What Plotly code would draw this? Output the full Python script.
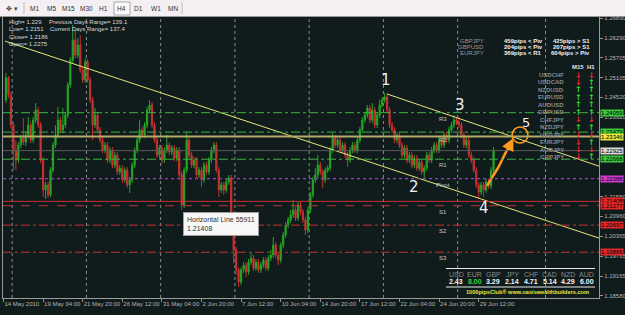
import plotly.graph_objects as go

# ---------------- figure geometry ----------------
W, H = 625, 315
ML, MR, MT, MB = 3, 26, 17, 17
PW, PH = W - ML - MR, H - MT - MB
BAR_PX = 2.475
X0 = -0.2
X1 = X0 + PW / BAR_PX
Y_BOT, Y_TOP = 1.18518, 1.26920

# ---------------- data ----------------
time_labels = ["14 May 2010", "19 May 04:00", "21 May 20:00", "26 May 12:00", "31 May 04:00",
               "2 Jun 20:00", "7 Jun 12:00", "10 Jun 04:00", "14 Jun 20:00", "17 Jun 12:00",
               "22 Jun 04:00", "24 Jun 20:00", "29 Jun 12:00"]
label_bars = [0, 16, 32, 48, 64, 80, 96, 112, 128, 144, 160, 176, 192]
week_bars = [3.5, 33.5, 63.5, 93.5, 123.5, 153.5, 183.5, 219.0]

first_open = 1.2444
closes = [
    1.2510, 1.2459, 1.2369, 1.2294, 1.2264, 1.2309, 1.2330, 1.2318, 1.2339, 1.2369,
    1.2324, 1.2384, 1.2414, 1.2369, 1.2264, 1.2175, 1.2190, 1.2160, 1.2234, 1.2309,
    1.2339, 1.2384, 1.2354, 1.2369, 1.2399, 1.2489, 1.2563, 1.2623, 1.2578, 1.2608,
    1.2534, 1.2504, 1.2557, 1.2504, 1.2444, 1.2369, 1.2399, 1.2354, 1.2324, 1.2294,
    1.2309, 1.2264, 1.2294, 1.2249, 1.2279, 1.2229, 1.2240, 1.2205, 1.2234, 1.2190,
    1.2205, 1.2249, 1.2294, 1.2324, 1.2354, 1.2339, 1.2369, 1.2414, 1.2429, 1.2369,
    1.2324, 1.2279, 1.2300, 1.2264, 1.2294, 1.2309, 1.2288, 1.2300, 1.2270, 1.2294,
    1.2220, 1.2130, 1.2234, 1.2324, 1.2279, 1.2249, 1.2264, 1.2220, 1.2234, 1.2205,
    1.2249, 1.2229, 1.2264, 1.2294, 1.2309, 1.2234, 1.2175, 1.2190, 1.2175, 1.2199,
    1.2211, 1.2100, 1.1995, 1.1936, 1.1900, 1.1936, 1.1950, 1.1930, 1.1959, 1.1971,
    1.1941, 1.1959, 1.1936, 1.1950, 1.1965, 1.1941, 1.1971, 1.1980, 1.2010, 1.1980,
    1.1965, 1.2010, 1.2040, 1.2070, 1.2085, 1.2100, 1.2115, 1.2091, 1.2130, 1.2109,
    1.2085, 1.2055, 1.2115, 1.2160, 1.2205, 1.2220, 1.2249, 1.2229, 1.2205, 1.2234,
    1.2240, 1.2294, 1.2330, 1.2309, 1.2324, 1.2294, 1.2309, 1.2279, 1.2264, 1.2294,
    1.2309, 1.2294, 1.2324, 1.2354, 1.2384, 1.2399, 1.2420, 1.2384, 1.2414, 1.2369,
    1.2399, 1.2429, 1.2444, 1.2453, 1.2414, 1.2369, 1.2354, 1.2324, 1.2339, 1.2309,
    1.2279, 1.2300, 1.2264, 1.2279, 1.2249, 1.2270, 1.2240, 1.2258, 1.2229, 1.2240,
    1.2279, 1.2264, 1.2294, 1.2309, 1.2294, 1.2324, 1.2309, 1.2339, 1.2324, 1.2354,
    1.2369, 1.2384, 1.2378, 1.2369, 1.2339, 1.2309, 1.2324, 1.2279, 1.2264, 1.2234,
    1.2190, 1.2169, 1.2190, 1.2175, 1.2199, 1.2187, 1.2234, 1.2294]
highs = [
    1.2525, 1.2516, 1.2468, 1.2378, 1.2324, 1.2318, 1.2339, 1.2390, 1.2348, 1.2393,
    1.2378, 1.2393, 1.2435, 1.2423, 1.2378, 1.2273, 1.2199, 1.2199, 1.2243, 1.2318,
    1.2369, 1.2423, 1.2393, 1.2420, 1.2408, 1.2498, 1.2572, 1.2668, 1.2653, 1.2629,
    1.2638, 1.2542, 1.2569, 1.2566, 1.2513, 1.2453, 1.2420, 1.2408, 1.2363, 1.2333,
    1.2318, 1.2318, 1.2303, 1.2303, 1.2288, 1.2288, 1.2249, 1.2249, 1.2243, 1.2243,
    1.2214, 1.2258, 1.2303, 1.2333, 1.2384, 1.2363, 1.2378, 1.2423, 1.2444, 1.2438,
    1.2378, 1.2333, 1.2309, 1.2309, 1.2303, 1.2339, 1.2318, 1.2309, 1.2309, 1.2303,
    1.2303, 1.2229, 1.2243, 1.2345, 1.2333, 1.2288, 1.2273, 1.2273, 1.2243, 1.2243,
    1.2258, 1.2258, 1.2273, 1.2303, 1.2318, 1.2318, 1.2243, 1.2199, 1.2199, 1.2208,
    1.2220, 1.2220, 1.2109, 1.2004, 1.1944, 1.1944, 1.1959, 1.1959, 1.1968, 1.1986,
    1.1980, 1.1968, 1.1968, 1.1959, 1.1974, 1.1974, 1.1980, 1.1995, 1.2034, 1.2019,
    1.1989, 1.2019, 1.2049, 1.2079, 1.2094, 1.2115, 1.2145, 1.2124, 1.2139, 1.2139,
    1.2118, 1.2094, 1.2124, 1.2169, 1.2214, 1.2240, 1.2279, 1.2258, 1.2237, 1.2243,
    1.2249, 1.2303, 1.2345, 1.2339, 1.2333, 1.2333, 1.2318, 1.2318, 1.2288, 1.2303,
    1.2318, 1.2318, 1.2333, 1.2363, 1.2393, 1.2408, 1.2429, 1.2429, 1.2435, 1.2423,
    1.2408, 1.2444, 1.2453, 1.2465, 1.2462, 1.2423, 1.2378, 1.2363, 1.2348, 1.2348,
    1.2318, 1.2309, 1.2309, 1.2288, 1.2288, 1.2279, 1.2279, 1.2267, 1.2267, 1.2249,
    1.2288, 1.2288, 1.2303, 1.2318, 1.2318, 1.2333, 1.2333, 1.2348, 1.2348, 1.2363,
    1.2378, 1.2399, 1.2393, 1.2393, 1.2378, 1.2348, 1.2333, 1.2333, 1.2288, 1.2273,
    1.2243, 1.2199, 1.2199, 1.2199, 1.2208, 1.2208, 1.2243, 1.2303]
lows = [
    1.2435, 1.2450, 1.2360, 1.2234, 1.2234, 1.2255, 1.2300, 1.2309, 1.2306, 1.2330,
    1.2315, 1.2315, 1.2375, 1.2360, 1.2255, 1.2154, 1.2148, 1.2151, 1.2154, 1.2226,
    1.2300, 1.2330, 1.2345, 1.2345, 1.2360, 1.2390, 1.2480, 1.2554, 1.2569, 1.2569,
    1.2525, 1.2495, 1.2495, 1.2495, 1.2435, 1.2324, 1.2360, 1.2345, 1.2315, 1.2285,
    1.2285, 1.2255, 1.2255, 1.2240, 1.2240, 1.2220, 1.2220, 1.2196, 1.2196, 1.2181,
    1.2166, 1.2196, 1.2240, 1.2285, 1.2315, 1.2330, 1.2330, 1.2360, 1.2405, 1.2360,
    1.2315, 1.2270, 1.2270, 1.2255, 1.2255, 1.2285, 1.2279, 1.2279, 1.2261, 1.2261,
    1.2211, 1.2115, 1.2121, 1.2226, 1.2270, 1.2240, 1.2240, 1.2211, 1.2211, 1.2184,
    1.2196, 1.2220, 1.2220, 1.2255, 1.2285, 1.2226, 1.2154, 1.2166, 1.2160, 1.2166,
    1.2190, 1.2091, 1.1956, 1.1921, 1.1885, 1.1891, 1.1927, 1.1915, 1.1921, 1.1950,
    1.1933, 1.1933, 1.1927, 1.1927, 1.1941, 1.1933, 1.1933, 1.1962, 1.1971, 1.1971,
    1.1950, 1.1956, 1.2001, 1.2031, 1.2061, 1.2076, 1.2091, 1.2082, 1.2082, 1.2100,
    1.2076, 1.2040, 1.2046, 1.2106, 1.2151, 1.2196, 1.2211, 1.2220, 1.2181, 1.2196,
    1.2226, 1.2232, 1.2285, 1.2300, 1.2300, 1.2285, 1.2285, 1.2270, 1.2243, 1.2255,
    1.2285, 1.2285, 1.2285, 1.2315, 1.2345, 1.2375, 1.2390, 1.2375, 1.2375, 1.2360,
    1.2360, 1.2390, 1.2420, 1.2435, 1.2405, 1.2360, 1.2345, 1.2315, 1.2315, 1.2300,
    1.2270, 1.2270, 1.2255, 1.2255, 1.2240, 1.2240, 1.2232, 1.2232, 1.2220, 1.2211,
    1.2232, 1.2255, 1.2255, 1.2285, 1.2285, 1.2285, 1.2300, 1.2300, 1.2315, 1.2315,
    1.2345, 1.2360, 1.2369, 1.2360, 1.2330, 1.2300, 1.2300, 1.2270, 1.2255, 1.2226,
    1.2181, 1.2151, 1.2160, 1.2154, 1.2166, 1.2178, 1.2178, 1.2226]

price_ticks = [1.26890, 1.26290, 1.25705, 1.25105, 1.24520, 1.23920, 1.23335, 1.22750,
               1.22150, 1.21550, 1.20960, 1.20365, 1.19765, 1.19165, 1.18580]

levels = [1.24059, 1.23479, 1.23346, 1.22925, 1.22668, 1.22088, 1.21408, 1.21277, 1.20697, 1.19886]
level_names = ["R3", "R2", "", "", "R1", "Pivot", "", "S1", "S2", "S3"]

trend1_bars = [0.6, 240.6]
trend1_prices = [1.2620, 1.2031]
trend2_bars = [154.9, 240.6]
trend2_prices = [1.2462, 1.2246]

arrow_bars = [195.4, 197.8, 200.2, 202.6, 204.4]
arrow_prices = [1.2187, 1.2217, 1.2246, 1.2282, 1.2306]
arrow_tip = (206.0, 1.2330)
circle_center = (208.7, 1.2339)

wave_labels = ["1", "2", "3", "4", "5"]
wave_bars = [154.6, 165.9, 184.4, 194.1, 211.1]
wave_prices = [1.2504, 1.2184, 1.2429, 1.2120, 1.2378]

info_left = ["High= 1.229", "Low= 1.2151", "Close= 1.2186", "Open= 1.2275"]
info_right = ["Previous Days Range= 139.1", "Current Days Range= 137.4"]

pip_pairs = ["GBPJPY", "GBPUSD", "EURJPY"]
pip_col1 = ["459pips < Piv", "204pips < Piv", "369pips < R1"]
pip_col2 = ["425pips > S1", "207pips > S1", "604pips > Piv"]

pairs = ["USDCHF", "USDCAD", "NZDUSD", "EURUSD", "AUDUSD", "GBPUSD",
         "CHFJPY", "NZDJPY", "USDJPY", "EURJPY", "AUDJPY", "GBPJPY"]
m15_dir = ["down", "down", "up", "up", "up", "up", "down", "up", "down", "down", "down", "down"]
h1_dir = ["down", "up", "up", "up", "up", "up", "down", "up", "down", "up", "down", "up"]

currencies = ["USD", "EUR", "GBP", "JPY", "CHF", "CAD", "NZD", "AUD"]
strength = [2.43, 8.00, 3.29, 2.14, 4.71, 5.14, 4.29, 6.00]

timeframes = ["M1", "M5", "M15", "M30", "H1", "H4", "D1", "W1", "MN"]

tooltip_text = ["Horizontal Line 55911", "1.21408"]
tooltip_pos = (72.5, 1.2109)

# ---------------- styles ----------------
BG = "#101b1c"
GREEN = "#25a525"
RED = "#c83232"
LGREEN = "#3cb43c"
LRED = "#c83030"
FONT = "Liberation Sans, Arial, sans-serif"
level_color = [LGREEN, LGREEN, "#b4ac68", "#5a5a5a", LGREEN, "#9a3cc8", LRED, LRED, LRED, LRED]
level_dash = ["dashdot", "dashdot", "solid", "solid", "dashdot", "dot", "solid", "dash", "dashdot", "dashdot"]
level_width = [1, 1, 2, 1, 1, 1.3, 1, 1, 1, 1]
box_color = ["#3cc83c", "#3cc83c", "#e8e83c", "#d8d8d8", "#3cc83c", "#d03cd0", "#e02828", "#e02828", "#e02828", "#e02828"]


def px(x):
    return (x - ML) / PW


def py(y):
    return (H - MB - y) / PH


fig = go.Figure()

bars = list(range(1, len(closes) + 1))
opens = [first_open] + closes[:-1]
fig.add_trace(go.Candlestick(
    x=bars, open=opens, high=highs, low=lows, close=closes,
    increasing=dict(line=dict(color=GREEN, width=1), fillcolor=GREEN),
    decreasing=dict(line=dict(color=RED, width=1), fillcolor=RED),
    whiskerwidth=0, showlegend=False, hoverinfo="skip"))

for tb, tp in ((trend1_bars, trend1_prices), (trend2_bars, trend2_prices)):
    fig.add_trace(go.Scatter(x=tb, y=tp, mode="lines", line=dict(color="#e6e678", width=1),
                             showlegend=False, hoverinfo="skip"))

fig.add_trace(go.Scatter(x=arrow_bars, y=arrow_prices, mode="lines",
                         line=dict(color="#ff9a1e", width=2.5, shape="spline"),
                         showlegend=False, hoverinfo="skip"))

shapes = []
ann = []

# toolbar
shapes.append(dict(type="rect", xref="paper", yref="paper", x0=px(0), x1=px(W), y0=py(17), y1=py(0),
                   fillcolor="#f3eff3", line=dict(width=0), layer="above"))
shapes.append(dict(type="line", xref="paper", yref="paper", x0=px(0), x1=px(W), y0=py(16.5), y1=py(16.5),
                   line=dict(color="#9a9a9a", width=1), layer="above"))
for sx in (24, 182):
    shapes.append(dict(type="line", xref="paper", yref="paper", x0=px(sx), x1=px(sx), y0=py(14), y1=py(2),
                       line=dict(color="#c0bcc0", width=1), layer="above"))
shapes.append(dict(type="rect", xref="paper", yref="paper", x0=px(114), x1=px(130), y0=py(15), y1=py(2),
                   fillcolor="#fbfbfb", line=dict(color="#a8a8a8", width=1), layer="above"))
ann.append(dict(xref="paper", yref="paper", x=px(4), y=py(8.5), text="✥ ▾", showarrow=False,
                xanchor="left", yanchor="middle", font=dict(size=7, color="#404040", family="DejaVu Sans")))
for i, tf in enumerate(timeframes):
    ann.append(dict(xref="paper", yref="paper", x=px(34 + 17.4 * i), y=py(8.5), text=tf, showarrow=False,
                    xanchor="center", yanchor="middle", font=dict(size=6.5, color="#303030", family=FONT)))

# weekly separators
for wb in week_bars:
    shapes.append(dict(type="line", xref="x", yref="paper", x0=wb, x1=wb, y0=0, y1=1,
                       line=dict(color="#8c8c8c", width=1, dash="dot"), layer="below"))

# levels
for lv, nm, col, dsh, wd, bx in zip(levels, level_names, level_color, level_dash, level_width, box_color):
    shapes.append(dict(type="line", xref="paper", yref="y", x0=0, x1=1, y0=lv, y1=lv,
                       line=dict(color=col, width=wd, dash=dsh), layer="above"))
    ann.append(dict(xref="paper", yref="y", x=1, y=lv, xanchor="left", yanchor="middle", xshift=1,
                    text=f"{lv:.5f}", showarrow=False, bgcolor=bx, borderpad=0,
                    font=dict(size=6, color="#000000", family=FONT)))
    if nm:
        ann.append(dict(xref="x", yref="y", x=177.6, y=lv, xanchor="center", yanchor="top",
                        yshift=-3 if nm == "R2" else -1, text=nm, showarrow=False,
                        font=dict(size=6, color="#c8c8c8", family=FONT)))

# price scale labels hidden behind the level boxes (as on the terminal)
shown_ticks = [t for t in price_ticks if min(abs(t - lv) for lv in levels) > 0.001]

# orange circle and arrow head
cx, cy = circle_center
shapes.append(dict(type="circle", xref="x", yref="y", x0=cx - 3.2, x1=cx + 3.2, y0=cy - 0.0024, y1=cy + 0.0024,
                   line=dict(color="#ff9a1e", width=1.5)))
ann.append(dict(xref="x", yref="y", axref="x", ayref="y", x=arrow_tip[0], y=arrow_tip[1],
                ax=arrow_bars[-1], ay=arrow_prices[-1], text="", showarrow=True,
                arrowhead=2, arrowsize=1, arrowwidth=2.5, arrowcolor="#ff9a1e"))

# wave labels
for t, b, p in zip(wave_labels, wave_bars, wave_prices):
    ann.append(dict(xref="x", yref="y", x=b, y=p, text=t, showarrow=False, xanchor="center", yanchor="middle",
                    font=dict(size=15 if t != "5" else 13, color="#f0f0f0", family="DejaVu Sans")))

# tooltip
ann.append(dict(xref="x", yref="y", x=tooltip_pos[0], y=tooltip_pos[1], xanchor="left", yanchor="top",
                text="<br>".join(tooltip_text), align="left", showarrow=False, bgcolor="#f7f7f7",
                bordercolor="#a0a0a0", borderwidth=1, borderpad=3,
                font=dict(size=7, color="#303030", family=FONT)))

# info text top-left
for i, s in enumerate(info_left):
    ann.append(dict(xref="paper", yref="paper", x=px(7), y=py(22 + 7.4 * i), text=s, showarrow=False,
                    xanchor="left", yanchor="middle", font=dict(size=6, color="#d8d8d8", family=FONT)))
for i, s in enumerate(info_right):
    ann.append(dict(xref="paper", yref="paper", x=px(47 + i), y=py(22 + 7.4 * i), text=s, showarrow=False,
                    xanchor="left", yanchor="middle", font=dict(size=6, color="#d8d8d8", family=FONT)))

# pips panel top-right
for i in range(len(pip_pairs)):
    yy = py(41 + 6 * i)
    ann.append(dict(xref="paper", yref="paper", x=px(486), y=yy, text=pip_pairs[i], showarrow=False,
                    xanchor="right", yanchor="middle", font=dict(size=6, color="#9a9a9a", family=FONT)))
    ann.append(dict(xref="paper", yref="paper", x=px(502), y=yy, text=f"<b>{pip_col1[i]}</b>", showarrow=False,
                    xanchor="left", yanchor="middle", font=dict(size=6, color="#f4f4f4", family=FONT)))
    ann.append(dict(xref="paper", yref="paper", x=px(592), y=yy, text=f"<b>{pip_col2[i]}</b>", showarrow=False,
                    xanchor="right", yanchor="middle", font=dict(size=6, color="#f4f4f4", family=FONT)))

# arrows table
ann.append(dict(xref="paper", yref="paper", x=px(578), y=py(67), text="<b>M15</b>", showarrow=False,
                xanchor="center", yanchor="middle", font=dict(size=6, color="#e8e8e8", family=FONT)))
ann.append(dict(xref="paper", yref="paper", x=px(591), y=py(67), text="<b>H1</b>", showarrow=False,
                xanchor="center", yanchor="middle", font=dict(size=6, color="#e8e8e8", family=FONT)))
for i, pr in enumerate(pairs):
    yy = py(75 + 7.45 * i)
    ann.append(dict(xref="paper", yref="paper", x=px(566), y=yy, text=f"<b>{pr}</b>", showarrow=False,
                    xanchor="right", yanchor="middle", font=dict(size=6, color="#8c8c8c", family=FONT)))
    for xx, d in ((578, m15_dir[i]), (591, h1_dir[i])):
        ann.append(dict(xref="paper", yref="paper", x=px(xx), y=yy,
                        text="<b>↑</b>" if d == "up" else "<b>↓</b>", showarrow=False,
                        xanchor="center", yanchor="middle",
                        font=dict(size=8, color="#2ee02e" if d == "up" else "#ee2a2a", family="DejaVu Sans")))

# currency strength panel
for yl in (268.5, 287):
    shapes.append(dict(type="line", xref="paper", yref="paper", x0=px(446), x1=px(595), y0=py(yl), y1=py(yl),
                       line=dict(color="#e8e8e8", width=1)))
for i, (c, v) in enumerate(zip(currencies, strength)):
    xx = px(456 + 18.7 * i)
    ann.append(dict(xref="paper", yref="paper", x=xx, y=py(274), text=c, showarrow=False,
                    xanchor="center", yanchor="middle", font=dict(size=7, color="#8a8a8a", family=FONT)))
    ann.append(dict(xref="paper", yref="paper", x=xx, y=py(281.5), text=f"<b>{v:.2f}</b>", showarrow=False,
                    xanchor="center", yanchor="middle",
                    font=dict(size=7, color="#3cd23c" if v == max(strength) else "#f4f4f4", family=FONT)))
ann.append(dict(xref="paper", yref="paper", x=px(527), y=py(292), text="<b>1000pipsClub® www.oasiswealthbuilders.com</b>",
                showarrow=False, xanchor="center", yanchor="middle",
                font=dict(size=5.6, color="#e6e63c", family=FONT)))

fig.update_layout(
    width=W, height=H, margin=dict(l=ML, r=MR, t=MT, b=MB, autoexpand=False),
    paper_bgcolor=BG, plot_bgcolor=BG, showlegend=False,
    shapes=shapes, annotations=ann,
    xaxis=dict(range=[X0, X1], tickvals=label_bars, ticktext=time_labels, tickangle=0,
               ticks="outside", ticklen=3, tickcolor="#909090",
               tickfont=dict(size=6, color="#b4b4b4", family=FONT), ticklabelposition="outside right",
               showgrid=False, zeroline=False, showline=True, linecolor="#9a9a9a", mirror=True,
               rangeslider=dict(visible=False), fixedrange=True, automargin=False),
    yaxis=dict(range=[Y_BOT, Y_TOP], side="right", tickvals=shown_ticks,
               ticktext=[f"{v:.5f}" for v in shown_ticks], ticks="outside", ticklen=3, tickcolor="#909090",
               tickfont=dict(size=6, color="#b4b4b4", family=FONT),
               showgrid=False, zeroline=False, showline=True, linecolor="#9a9a9a", mirror=True,
               fixedrange=True, automargin=False),
)

fig.write_html("out.html")
